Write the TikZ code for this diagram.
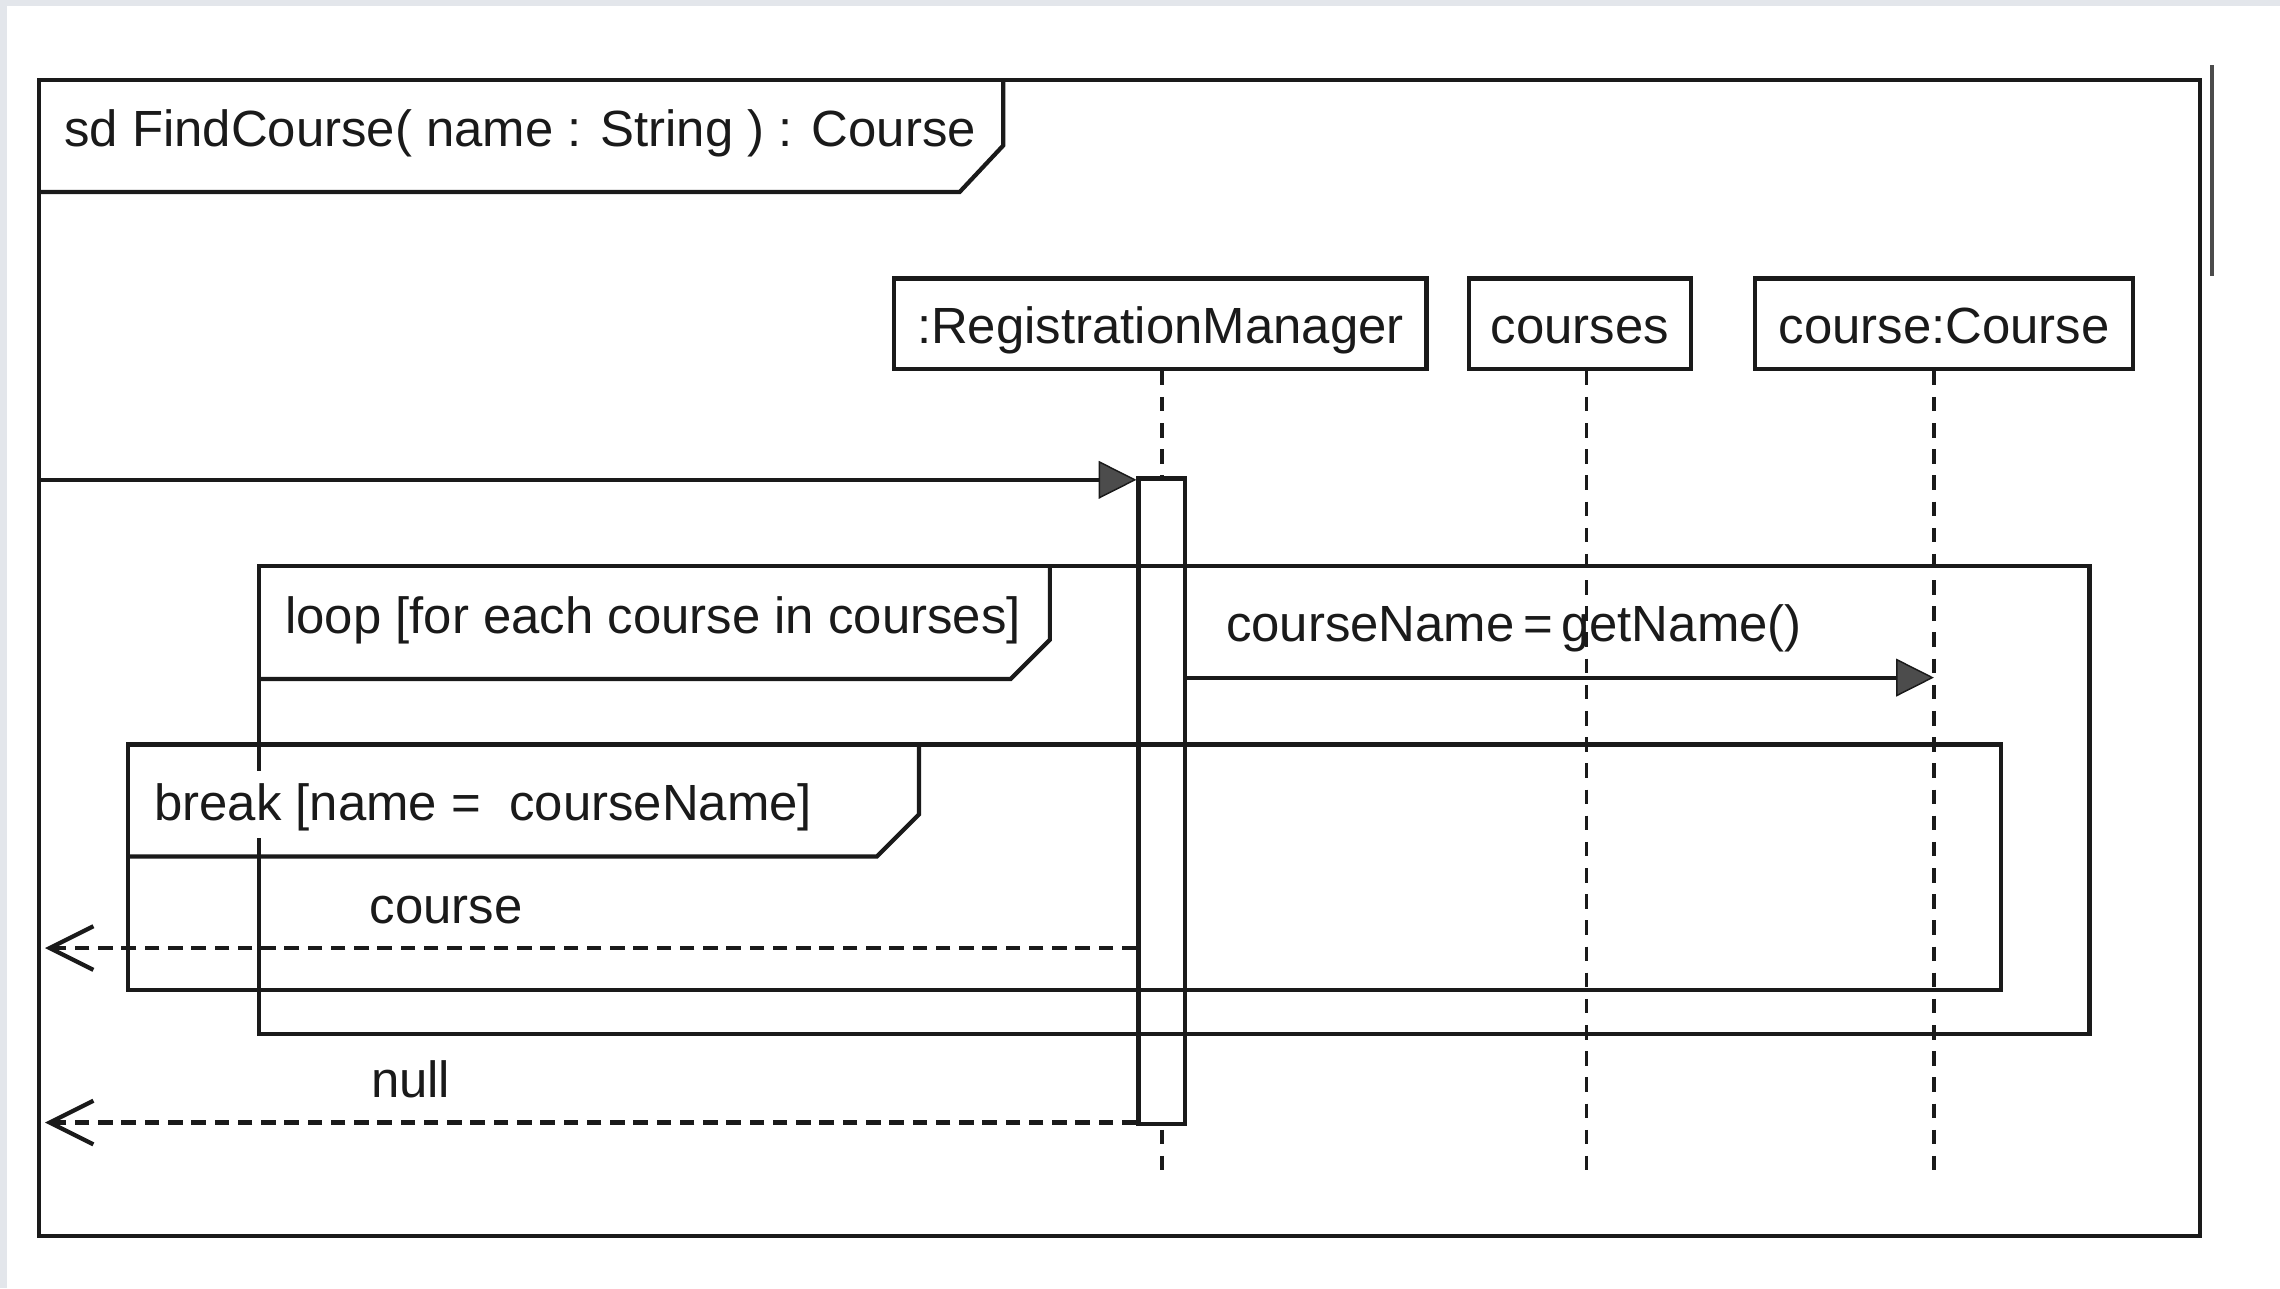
\documentclass[tikz,border=0pt]{standalone}
\usepackage{fontspec}
\setmainfont{Liberation Sans}
\usetikzlibrary{arrows.meta,positioning}
\definecolor{ink}{HTML}{1A1A1A}
\definecolor{edge}{HTML}{E3E6EB}
\tikzset{
  frameline/.style={draw=ink,line width=2.9pt},
  head/.style={draw=ink,line width=2.9pt,fill=white,inner sep=0pt,
    minimum height=62pt,text height=30pt,text depth=2pt},
  lifeline/.style={draw=ink,line width=2.6pt,dash pattern=on 10pt off 8pt},
  call/.style={draw=ink,line width=2.9pt,
    -{Triangle[length=26pt,width=26pt,fill=black!70,line width=1pt]}},
  reply/.style={draw=ink,line width=2.9pt,dash pattern=on 10pt off 6pt,
    -{Straight Barb[length=30pt,width=30pt,line width=2.9pt]}},
  tag/.style={anchor=base west,inner sep=0pt}
}
\begin{document}
\begin{tikzpicture}[x=1pt,y=-1pt,
    every node/.style={text=ink,font=\fontsize{35}{42}\selectfont}]
    \fill[edge] (0,0) rectangle (1568,886);
    \fill[white] (5,4) rectangle (1568,886);
    \useasboundingbox (0,0) rectangle (1568,886);
    \draw[frameline] (27,55) rectangle (1513,850);
    \draw[black!70,line width=3pt] (1521,45) -- (1521,190);
    \draw[frameline] (27,132) -- (660,132) -- (690,100) -- (690,55);
    \node[tag] (sd) at (44,101) {sd FindCourse( name : String ) : Course};
    \node[head,minimum width=366pt] (rm) at (798,222.5) {:RegistrationManager};
    \node[head,minimum width=153pt] (cs) at (1086.5,222.5) {courses};
    \node[head,minimum width=260pt] (cc) at (1337,222.5) {course:Course};
    \foreach \h/\x in {rm/799,cs/1091,cc/1330}
      \draw[lifeline] (\h.south -| \x,0) -- (\x,812);
    \node[draw=ink,line width=2.9pt,fill=white,inner sep=0pt,
      minimum width=32pt,minimum height=444pt] (act) at (799,551) {};
    \coordinate (in) at (27,330);
    \draw[call] (in) -- (in -| act.west);
    \draw[frameline] (178,389) rectangle (1437,711);
    \draw[frameline] (178,467) -- (695,467) -- (722,440) -- (722,389);
    \node[tag] (loop) at (196,436) {loop [for each course in courses]};
    \coordinate (cn) at (1330,466);
    \draw[call] (cn -| act.east) -- (cn);
    \node[tag] (gn) at (843,441) {courseName\,=\,getName()};
    \draw[frameline] (88,512) rectangle (1376,681);
    \draw[frameline] (88,589) -- (603,589) -- (632,560) -- (632,512);
    \node[tag,fill=white,text height=34pt,text depth=12pt] (brk) at (106,564)
      {break [name =\ \ courseName]};
    \foreach \n/\y/\t/\lx in {rc/652/course/254,rn/772/null/255}{
      \coordinate (\n) at (31,\y);
      \draw[reply] (\n -| act.west) -- (\n);
      \node[tag] (\n l) at (\lx,\y-17) {\t};
    }
\end{tikzpicture}
\end{document}
